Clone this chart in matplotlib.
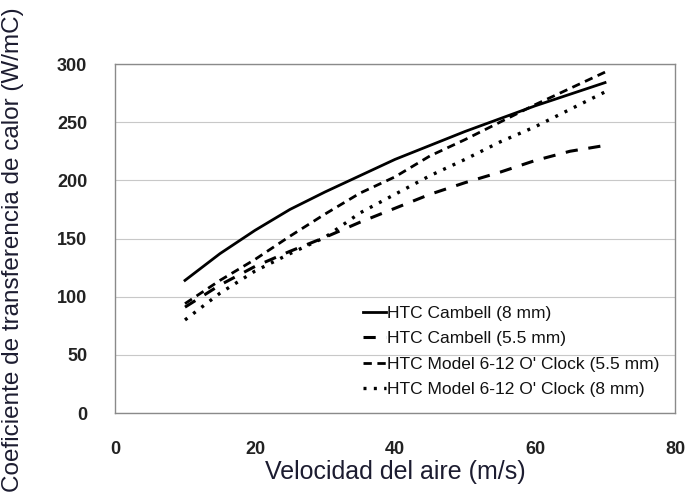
import matplotlib
matplotlib.use("Agg")
import matplotlib.pyplot as plt

velocity = [10, 15, 20, 25, 30, 35, 40, 45, 50, 55, 60, 65, 70]
campbell_8 = [114, 137, 157, 175, 190, 204, 218, 230, 242, 253, 264, 274, 284]
campbell_55 = [91, 110, 126, 139, 151, 164, 176, 188, 198, 207, 217, 225, 230]
model_55 = [94, 114, 132, 152, 171, 189, 203, 221, 235, 250, 265, 279, 293]
model_8 = [80, 103, 122, 137, 151, 172, 188, 204, 218, 233, 246, 261, 276]

labels = ["HTC Cambell (8 mm)", "HTC Cambell (5.5 mm)",
          "HTC Model 6-12 O' Clock (5.5 mm)", "HTC Model 6-12 O' Clock (8 mm)"]
xticks = [0, 20, 40, 60, 80]
yticks = [0, 50, 100, 150, 200, 250, 300]

plt.rcParams['font.family'] = ['Liberation Sans', 'DejaVu Sans']

fig = plt.figure(figsize=(6.91, 5.0), dpi=100)
ax = fig.add_axes([0.1664, 0.174, 0.8105, 0.698])

ax.plot(velocity, campbell_8, color='black', lw=2.0, ls='-', label=labels[0])
ax.plot(velocity, campbell_55, color='black', lw=2.2, ls=(0, (4, 3.5)), label=labels[1])
ax.plot(velocity, model_55, color='black', lw=2.0, ls=(0, (3, 2)), label=labels[2])
ax.plot(velocity, model_8, color='black', lw=2.4, ls=(0, (0.9, 2.2)), label=labels[3])

ax.set_xlim(0, 80)
ax.set_ylim(0, 300)
ax.set_xticks(xticks)
ax.set_yticks(yticks)
ax.yaxis.grid(True, color='#c8c8c8', lw=0.8)
ax.set_axisbelow(True)
for s in ax.spines.values():
    s.set_color('#8a8a8a')
    s.set_linewidth(1.0)
ax.tick_params(length=0, labelsize=13)
ax.tick_params(axis='x', pad=20)
ax.tick_params(axis='y', pad=20)
for t in ax.get_xticklabels() + ax.get_yticklabels():
    t.set_fontweight('bold')
    t.set_color('#222222')

ax.set_xlabel("Velocidad del aire (m/s)", fontsize=18, color='#1c1c30')
ax.xaxis.set_label_coords(0.5, -0.135)
ax.set_ylabel("Coeficiente de transferencia de calor (W/mC)", fontsize=17.5,
              color='#1c1c30')
ax.yaxis.set_label_coords(-0.162, 0.467)

leg = ax.legend(loc='lower left', bbox_to_anchor=(0.443, 0.045), frameon=False,
                fontsize=12.5, handlelength=1.3, handletextpad=0.1,
                labelspacing=0.6, borderaxespad=0, borderpad=0)
for t in leg.get_texts():
    t.set_color('#111111')

fig.savefig("out.png", dpi=100)
